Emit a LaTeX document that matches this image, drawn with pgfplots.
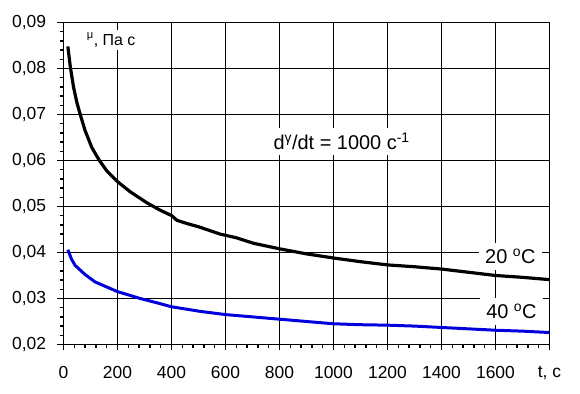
\documentclass[border=0pt]{standalone}
\usepackage{fontspec}
\setmainfont{Liberation Sans}
\usepackage{pgfplots}
\pgfplotsset{compat=1.18}
\definecolor{curveblue}{RGB}{0,0,220}
\begin{document}
\begin{tikzpicture}
\begin{axis}[
  scale only axis, width=486bp, height=322bp,
  xmin=0, xmax=1800, ymin=0.02, ymax=0.09,
  xtick={0,200,400,600,800,1000,1200,1400,1600,1800},
  xticklabels={0,200,400,600,800,1000,1200,1400,1600,{t, c}},
  ytick={0.02,0.03,0.04,0.05,0.06,0.07,0.08,0.09},
  scaled y ticks=false,
  minor x tick num=4, minor y tick num=4,
  tick align=outside, tick pos=left,
  major tick length=6bp, minor tick length=3.5bp,
  grid=major, grid style={black, line width=1.5bp},
  axis line style={black, line width=1.5bp},
  every tick/.style={black, line width=1.4bp},
  /pgf/number format/assume math mode=true,
  y tick label style={/pgf/number format/.cd, fixed, fixed zerofill, precision=2, use comma, /tikz/.cd, xshift=-8pt},
  x tick label style={yshift=-12pt},
  tick label style={font=\fontsize{17.5}{20}\selectfont},
  clip=false,
]
\addplot[black, line width=3.2pt, line join=round] coordinates {
(16,0.0848) (25,0.0805) (37,0.0760) (50,0.0725) (62,0.0700) (80,0.0665)
(105,0.0628) (133,0.0600) (161,0.0577) (200,0.0554) (247,0.0532) (309,0.0508)
(358,0.0492) (401,0.0480) (420,0.0470) (457,0.0463) (500,0.0456)
(580,0.0440) (640,0.0432) (704,0.0420) (800,0.0408) (900,0.0397) (1000,0.0388) (1100,0.0380)
(1200,0.0373) (1300,0.0369) (1400,0.0364) (1500,0.0357) (1600,0.0350)
(1700,0.0346) (1800,0.0341)
};
\addplot[curveblue, line width=3pt, line join=round] coordinates {
(16,0.0406) (30,0.0385) (43,0.0372) (80,0.0352) (117,0.0336) (160,0.0325)
(200,0.0315) (284,0.0300) (350,0.0290) (400,0.0282) (506,0.0272) (600,0.0265)
(700,0.0260) (800,0.0255) (900,0.0250) (1000,0.0245) (1100,0.0243) (1200,0.0242)
(1300,0.0240) (1400,0.0237) (1500,0.0234) (1600,0.0231) (1700,0.0229) (1800,0.0226)
};
\node[fill=white, inner sep=3pt, anchor=west, font=\fontsize{16}{18}\selectfont] at (axis cs:75,0.0862) {\textsuperscript{μ}, Па с};
\node[fill=white, inner sep=5pt, font=\fontsize{20}{22}\selectfont] at (axis cs:1030,0.0642) {d\textsuperscript{γ}/dt = 1000 c\textsuperscript{-1}};
\node[fill=white, inner sep=6pt, font=\fontsize{20}{22}\selectfont] at (axis cs:1655,0.0392) {20 \textsuperscript{o}C};
\node[fill=white, inner sep=6pt, font=\fontsize{20}{22}\selectfont] at (axis cs:1659,0.0272) {40 \textsuperscript{o}C};
\coordinate (sw) at (rel axis cs:0,0);
\coordinate (ne) at (rel axis cs:1,1);
\end{axis}
\path ([shift={(-63.5bp,-49.5bp)}]sw) rectangle ([shift={(30.5bp,22.5bp)}]ne);
\end{tikzpicture}
\end{document}
